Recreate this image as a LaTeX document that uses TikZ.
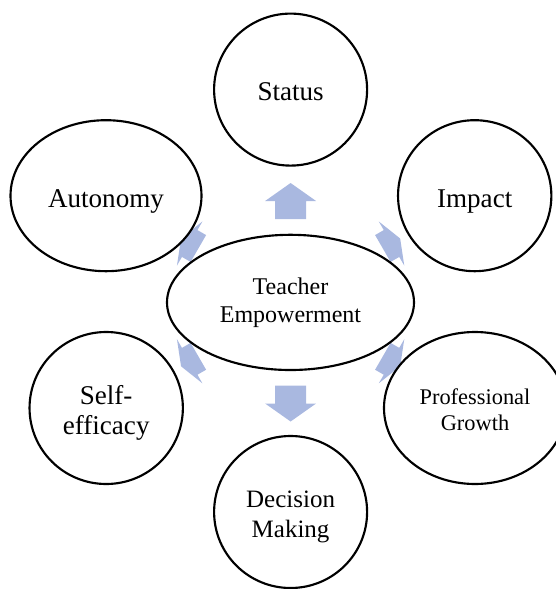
\documentclass[tikz,border=0pt]{standalone}
\usepackage{fontspec}
\setmainfont{Liberation Serif}
\usetikzlibrary{shapes.geometric,positioning}
\definecolor{arrowblue}{RGB}{169,184,224}
% fixed ascent/descent so every label sits the same way in its ellipse
\newcommand{\topstrut}{\rule{0pt}{1.06em}}
\newcommand{\botstrut}{\rule[-0.22em]{0pt}{0.22em}}

\begin{document}
\begin{tikzpicture}[x=0.75pt, y=-0.75pt,
    topic/.style={draw, ellipse, line width=1.6pt, fill=white, inner sep=0pt, align=center,
        font=\fontsize{20.3}{23}\selectfont},
    pics/blockarrow/.style={code={\fill[arrowblue] (-15.5,#1) -- (-15.5,0) -- (-25.5,0) -- (0,-#1)
        -- (25.5,0) -- (15.5,0) -- (15.5,#1) -- cycle;}}]
    \clip (0,0) rectangle (556,589);

    % Block arrows (under the ellipses)
    \pic (arrstatus) at (290.6,201) {blockarrow=18};
    \pic[rotate=-60] (arrimpact) at (391.5,243.5) {blockarrow=10};
    \pic[rotate=-120] (arrgrowth) at (391.5,361.3) {blockarrow=10};
    \pic[rotate=180] (arrdecision) at (290.6,403.5) {blockarrow=18};
    \pic[rotate=120] (arrselfeff) at (189.7,361.3) {blockarrow=10};
    \pic[rotate=60] (arrautonomy) at (189.7,243.5) {blockarrow=10};

    % Centre
    \node[topic, minimum width=185.25pt, minimum height=101.4pt,
        font=\fontsize{18}{21}\selectfont] (hub) at (290.5,302.4) {Teacher\\Empowerment};

    % Outer ellipses
    \node[topic, minimum width=114.75pt, minimum height=114pt] (status) at (290.6,89.6) {\topstrut Status\botstrut};
    \node[topic, minimum width=115pt, minimum height=113.25pt] (impact) at (474.7,195.7) {\topstrut Impact\botstrut};
    \node[topic, minimum width=136.5pt, minimum height=114pt,
        font=\fontsize{16.8}{19.5}\selectfont] (growth) at (475,408) {\topstrut Professional\\Growth\botstrut};
    \node[topic, minimum width=114.75pt, minimum height=114pt,
        font=\fontsize{18.75}{22}\selectfont] (decision) at (290.6,512) {\topstrut Decision\\Making\botstrut};
    \node[topic, minimum width=115pt, minimum height=114pt] (selfeff) at (106.2,408) {\topstrut Self-\\efficacy\botstrut};
    \node[topic, minimum width=143.25pt, minimum height=113.25pt] (autonomy) at (106,195.7) {\topstrut Autonomy\botstrut};
\end{tikzpicture}
\end{document}
